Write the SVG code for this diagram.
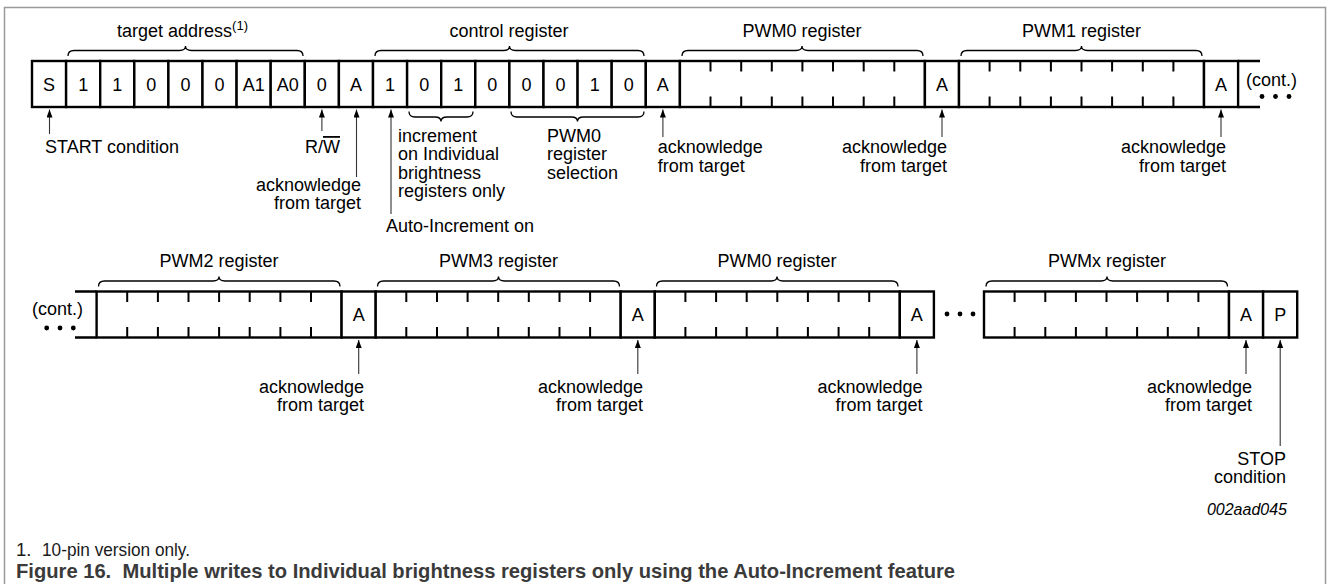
<svg xmlns="http://www.w3.org/2000/svg" width="1328" height="584" viewBox="0 0 1328 584">
<style>
.t{font-family:"Liberation Sans",Arial,Helvetica,sans-serif;font-size:18px;fill:#000}
.c{text-anchor:middle}
.e{text-anchor:end}
.cell{fill:#fff;stroke:#000;stroke-width:2.4}
.tick{fill:none;stroke:#000;stroke-width:2}
.ext{fill:none;stroke:#000;stroke-width:2.4}
.brace{fill:none;stroke:#000;stroke-width:1.3}
.arr{fill:none;stroke:#333;stroke-width:1.1;marker-end:url(#ah)}
.dot{fill:#000}
.frame{fill:none;stroke:#9a9a9a;stroke-width:1.5}
</style>
<defs>
<marker id="ah" viewBox="0 0 8 6" refX="8" refY="3" markerWidth="8" markerHeight="6" markerUnits="userSpaceOnUse" orient="auto">
<path d="M0,0 L8,3 L0,6 z" fill="#000"/>
</marker>
</defs>
<rect width="1328" height="584" fill="#fff"/>
<path class="frame" d="M4.5,590 V7.5 H1325.5 V590"/>

<!-- top row -->
<g id="top-row">
<path class="ext" d="M1238.1,61 H1260 M1238.1,107 H1260"/>
<g id="cell-S"><rect class="cell" x="32" y="61" width="34.1" height="46"/><text class="t c" x="49.05" y="90.5">S</text></g>
<g id="addr-b6"><rect class="cell" x="66.1" y="61" width="34.1" height="46"/><text class="t c" x="83.15" y="90.5">1</text></g>
<g id="addr-b5"><rect class="cell" x="100.2" y="61" width="34.1" height="46"/><text class="t c" x="117.25" y="90.5">1</text></g>
<g id="addr-b4"><rect class="cell" x="134.3" y="61" width="34.1" height="46"/><text class="t c" x="151.35" y="90.5">0</text></g>
<g id="addr-b3"><rect class="cell" x="168.4" y="61" width="34.1" height="46"/><text class="t c" x="185.45" y="90.5">0</text></g>
<g id="addr-b2"><rect class="cell" x="202.5" y="61" width="34.1" height="46"/><text class="t c" x="219.55" y="90.5">0</text></g>
<g id="addr-A1"><rect class="cell" x="236.6" y="61" width="34.1" height="46"/><text class="t c" x="253.65" y="90.5">A1</text></g>
<g id="addr-A0"><rect class="cell" x="270.7" y="61" width="34.1" height="46"/><text class="t c" x="287.75" y="90.5">A0</text></g>
<g id="cell-RW"><rect class="cell" x="304.8" y="61" width="34.1" height="46"/><text class="t c" x="321.85" y="90.5">0</text></g>
<g id="ack-1"><rect class="cell" x="338.9" y="61" width="34.1" height="46"/><text class="t c" x="355.95" y="90.5">A</text></g>
<g id="ctrl-b7"><rect class="cell" x="373" y="61" width="34.1" height="46"/><text class="t c" x="390.05" y="90.5">1</text></g>
<g id="ctrl-b6"><rect class="cell" x="407.1" y="61" width="34.1" height="46"/><text class="t c" x="424.15" y="90.5">0</text></g>
<g id="ctrl-b5"><rect class="cell" x="441.2" y="61" width="34.1" height="46"/><text class="t c" x="458.25" y="90.5">1</text></g>
<g id="ctrl-b4"><rect class="cell" x="475.3" y="61" width="34.1" height="46"/><text class="t c" x="492.35" y="90.5">0</text></g>
<g id="ctrl-b3"><rect class="cell" x="509.4" y="61" width="34.1" height="46"/><text class="t c" x="526.45" y="90.5">0</text></g>
<g id="ctrl-b2"><rect class="cell" x="543.5" y="61" width="34.1" height="46"/><text class="t c" x="560.55" y="90.5">0</text></g>
<g id="ctrl-b1"><rect class="cell" x="577.6" y="61" width="34.1" height="46"/><text class="t c" x="594.65" y="90.5">1</text></g>
<g id="ctrl-b0"><rect class="cell" x="611.7" y="61" width="34.1" height="46"/><text class="t c" x="628.75" y="90.5">0</text></g>
<g id="ack-2"><rect class="cell" x="645.8" y="61" width="34.1" height="46"/><text class="t c" x="662.85" y="90.5">A</text></g>
<g id="reg-pwm0-a"><rect class="cell" x="679.9" y="61" width="245" height="46"/>
<path class="tick" d="M710.5,61v10.5M741.2,61v10.5M771.8,61v10.5M802.4,61v10.5M833,61v10.5M863.7,61v10.5M894.3,61v10.5M710.5,107v-10.5M741.2,107v-10.5M771.8,107v-10.5M802.4,107v-10.5M833,107v-10.5M863.7,107v-10.5M894.3,107v-10.5"/></g>
<g id="ack-3"><rect class="cell" x="924.9" y="61" width="34.1" height="46"/><text class="t c" x="941.95" y="90.5">A</text></g>
<g id="reg-pwm1"><rect class="cell" x="959" y="61" width="245" height="46"/>
<path class="tick" d="M989.6,61v10.5M1020.3,61v10.5M1050.9,61v10.5M1081.5,61v10.5M1112.1,61v10.5M1142.8,61v10.5M1173.4,61v10.5M989.6,107v-10.5M1020.3,107v-10.5M1050.9,107v-10.5M1081.5,107v-10.5M1112.1,107v-10.5M1142.8,107v-10.5M1173.4,107v-10.5"/></g>
<g id="ack-4"><rect class="cell" x="1204" y="61" width="34.1" height="46"/><text class="t c" x="1221.05" y="90.5">A</text></g>
<g id="cont-top"><text class="t" x="1246" y="85.5">(cont.)</text>
<circle class="dot" cx="1262" cy="96.5" r="2.4"/><circle class="dot" cx="1275.5" cy="96.5" r="2.4"/><circle class="dot" cx="1289" cy="96.5" r="2.4"/></g>
</g>

<!-- bottom row -->
<g id="bottom-row">
<path class="ext" d="M75,291.5 H96.6 M75,337.5 H96.6"/>
<g id="cont-bottom"><text class="t" x="32" y="315">(cont.)</text>
<circle class="dot" cx="46.7" cy="328" r="2.4"/><circle class="dot" cx="60" cy="328" r="2.4"/><circle class="dot" cx="73.3" cy="328" r="2.4"/></g>
<g id="reg-pwm2"><rect class="cell" x="96.6" y="291.5" width="245" height="46"/>
<path class="tick" d="M127.2,291.5v10.5M157.9,291.5v10.5M188.5,291.5v10.5M219.1,291.5v10.5M249.7,291.5v10.5M280.4,291.5v10.5M311,291.5v10.5M127.2,337.5v-10.5M157.9,337.5v-10.5M188.5,337.5v-10.5M219.1,337.5v-10.5M249.7,337.5v-10.5M280.4,337.5v-10.5M311,337.5v-10.5"/></g>
<g id="ack-5"><rect class="cell" x="341.6" y="291.5" width="34.1" height="46"/><text class="t c" x="358.65" y="321">A</text></g>
<g id="reg-pwm3"><rect class="cell" x="375.7" y="291.5" width="245" height="46"/>
<path class="tick" d="M406.3,291.5v10.5M437,291.5v10.5M467.6,291.5v10.5M498.2,291.5v10.5M528.8,291.5v10.5M559.5,291.5v10.5M590.1,291.5v10.5M406.3,337.5v-10.5M437,337.5v-10.5M467.6,337.5v-10.5M498.2,337.5v-10.5M528.8,337.5v-10.5M559.5,337.5v-10.5M590.1,337.5v-10.5"/></g>
<g id="ack-6"><rect class="cell" x="620.7" y="291.5" width="34.1" height="46"/><text class="t c" x="637.75" y="321">A</text></g>
<g id="reg-pwm0-b"><rect class="cell" x="654.8" y="291.5" width="245" height="46"/>
<path class="tick" d="M685.4,291.5v10.5M716.1,291.5v10.5M746.7,291.5v10.5M777.3,291.5v10.5M807.9,291.5v10.5M838.6,291.5v10.5M869.2,291.5v10.5M685.4,337.5v-10.5M716.1,337.5v-10.5M746.7,337.5v-10.5M777.3,337.5v-10.5M807.9,337.5v-10.5M838.6,337.5v-10.5M869.2,337.5v-10.5"/></g>
<g id="ack-7"><rect class="cell" x="899.8" y="291.5" width="34.1" height="46"/><text class="t c" x="916.85" y="321">A</text></g>
<g id="gap-dots"><circle class="dot" cx="947" cy="314" r="2.4"/><circle class="dot" cx="960" cy="314" r="2.4"/><circle class="dot" cx="973" cy="314" r="2.4"/></g>
<g id="reg-pwmx"><rect class="cell" x="984" y="291.5" width="245" height="46"/>
<path class="tick" d="M1014.6,291.5v10.5M1045.3,291.5v10.5M1075.9,291.5v10.5M1106.5,291.5v10.5M1137.1,291.5v10.5M1167.8,291.5v10.5M1198.4,291.5v10.5M1014.6,337.5v-10.5M1045.3,337.5v-10.5M1075.9,337.5v-10.5M1106.5,337.5v-10.5M1137.1,337.5v-10.5M1167.8,337.5v-10.5M1198.4,337.5v-10.5"/></g>
<g id="ack-8"><rect class="cell" x="1229" y="291.5" width="34.1" height="46"/><text class="t c" x="1246.05" y="321">A</text></g>
<g id="cell-P"><rect class="cell" x="1263.1" y="291.5" width="34.1" height="46"/><text class="t c" x="1280.15" y="321">P</text></g>
</g>

<!-- braces and field labels -->
<g id="braces">
<path class="brace" d="M68,56 Q68,50.5 74,50.5 H179.5 Q185.5,50.5 185.5,46 Q185.5,50.5 191.5,50.5 H297 Q303,50.5 303,56"/>
<path class="brace" d="M375,56 Q375,50.5 381,50.5 H503.5 Q509.5,50.5 509.5,46 Q509.5,50.5 515.5,50.5 H638 Q644,50.5 644,56"/>
<path class="brace" d="M682,56 Q682,50.5 688,50.5 H796 Q802,50.5 802,46 Q802,50.5 808,50.5 H917 Q923,50.5 923,56"/>
<path class="brace" d="M961,56 Q961,50.5 967,50.5 H1075.5 Q1081.5,50.5 1081.5,46 Q1081.5,50.5 1087.5,50.5 H1196 Q1202,50.5 1202,56"/>
<path class="brace" d="M409,111.5 Q409,117 415,117 H435 Q441,117 441,121.5 Q441,117 447,117 H467 Q473,117 473,111.5"/>
<path class="brace" d="M511,111.5 Q511,117 517,117 H571.5 Q577.5,117 577.5,121.5 Q577.5,117 583.5,117 H638 Q644,117 644,111.5"/>
<path class="brace" d="M98.5,286.5 Q98.5,281 104.5,281 H213 Q219,281 219,276.5 Q219,281 225,281 H334 Q340,281 340,286.5"/>
<path class="brace" d="M377.5,286.5 Q377.5,281 383.5,281 H492.5 Q498.5,281 498.5,276.5 Q498.5,281 504.5,281 H613.5 Q619.5,281 619.5,286.5"/>
<path class="brace" d="M656.5,286.5 Q656.5,281 662.5,281 H771 Q777,281 777,276.5 Q777,281 783,281 H892 Q898,281 898,286.5"/>
<path class="brace" d="M986,286.5 Q986,281 992,281 H1101 Q1107,281 1107,276.5 Q1107,281 1113,281 H1221.5 Q1227.5,281 1227.5,286.5"/>
</g>
<g id="field-labels">
<text class="t" x="117" y="36.5">target address<tspan font-size="13" dy="-7">(1)</tspan></text>
<text class="t c" x="509" y="36.5">control register</text>
<text class="t c" x="802" y="36.5">PWM0 register</text>
<text class="t c" x="1081.5" y="36.5">PWM1 register</text>
<text class="t c" x="219" y="267">PWM2 register</text>
<text class="t c" x="498.5" y="267">PWM3 register</text>
<text class="t c" x="777" y="267">PWM0 register</text>
<text class="t c" x="1107" y="267">PWMx register</text>
</g>

<!-- connectors -->
<g id="connectors">
<path class="arr" d="M49.5,134 V109.5"/>
<path class="arr" d="M321.9,131 V109.5"/>
<path class="arr" d="M356.5,177 V109.5"/>
<path class="arr" d="M391,214 V109.5"/>
<path class="arr" d="M662.9,137 V109.5"/>
<path class="arr" d="M942,137 V109.5"/>
<path class="arr" d="M1221,137 V109.5"/>
<path class="arr" d="M358.7,374 V340"/>
<path class="arr" d="M637.8,374 V340"/>
<path class="arr" d="M916.9,374 V340"/>
<path class="arr" d="M1246,374 V340"/>
<path class="arr" d="M1280.2,446 V340"/>
</g>

<!-- annotations -->
<g id="annotations">
<text class="t" x="45" y="153">START condition</text>
<text class="t e" x="340" y="153">R/<tspan style="text-decoration:overline">W</tspan></text>
<text class="t e" x="361" y="191">acknowledge</text>
<text class="t e" x="361" y="209">from target</text>
<text class="t" x="398" y="141.5">increment</text>
<text class="t" x="398" y="160">on Individual</text>
<text class="t" x="398" y="178.5">brightness</text>
<text class="t" x="398" y="197">registers only</text>
<text class="t" x="386" y="231.5">Auto-Increment on</text>
<text class="t" x="547" y="141.5">PWM0</text>
<text class="t" x="547" y="160">register</text>
<text class="t" x="547" y="178.5">selection</text>
<text class="t" x="657.7" y="153">acknowledge</text>
<text class="t" x="657.7" y="171.5">from target</text>
<text class="t e" x="947" y="153">acknowledge</text>
<text class="t e" x="947" y="171.5">from target</text>
<text class="t e" x="1226" y="153">acknowledge</text>
<text class="t e" x="1226" y="171.5">from target</text>
<text class="t e" x="364" y="392.5">acknowledge</text>
<text class="t e" x="364" y="410.5">from target</text>
<text class="t e" x="643" y="392.5">acknowledge</text>
<text class="t e" x="643" y="410.5">from target</text>
<text class="t e" x="922.5" y="392.5">acknowledge</text>
<text class="t e" x="922.5" y="410.5">from target</text>
<text class="t e" x="1252" y="392.5">acknowledge</text>
<text class="t e" x="1252" y="410.5">from target</text>
<text class="t e" x="1286" y="464.5">STOP</text>
<text class="t e" x="1286" y="482.5">condition</text>
<text class="t e" x="1287" y="515" style="font-size:16px;font-style:italic">002aad045</text>
</g>

<!-- footnote and caption -->
<g id="caption">
<text class="t" x="16" y="556" style="font-size:18.5px;fill:#1a1a1a">1.</text>
<text class="t" x="42" y="556" style="font-size:18.5px;fill:#1a1a1a" textLength="148" lengthAdjust="spacingAndGlyphs">10-pin version only.</text>
<text class="t" x="16" y="577.5" style="font-size:21px;font-weight:bold;fill:#3a3a3a" xml:space="preserve" textLength="939" lengthAdjust="spacingAndGlyphs">Figure 16.  Multiple writes to Individual brightness registers only using the Auto-Increment feature</text>
</g>
</svg>
